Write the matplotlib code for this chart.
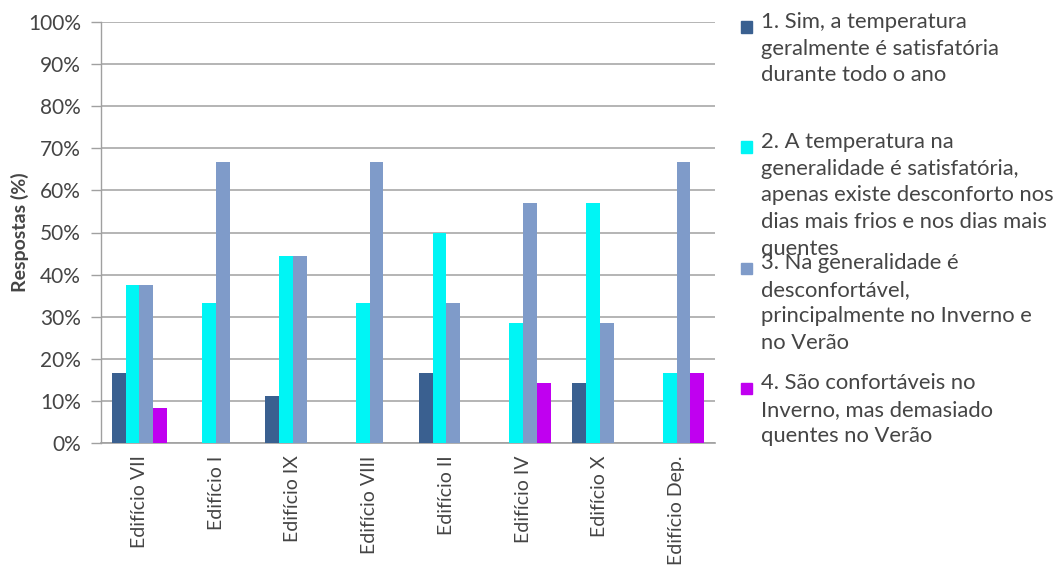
import matplotlib
matplotlib.use("Agg")
import matplotlib.pyplot as plt
import numpy as np
from matplotlib.patches import Rectangle

categories = ["Edifício VII", "Edifício I", "Edifício IX", "Edifício VIII",
              "Edifício II", "Edifício IV", "Edifício X", "Edifício Dep."]
s1 = [16.7, 0, 11.1, 0, 16.7, 0, 14.3, 0]
s2 = [37.5, 33.3, 44.4, 33.3, 50.0, 28.6, 57.1, 16.7]
s3 = [37.5, 66.7, 44.4, 66.7, 33.3, 57.1, 28.6, 66.7]
s4 = [8.3, 0, 0, 0, 0, 14.3, 0, 16.7]
series = [s1, s2, s3, s4]
labels = [
    "1. Sim, a temperatura\ngeralmente é satisfatória\ndurante todo o ano",
    "2. A temperatura na\ngeneralidade é satisfatória,\napenas existe desconforto nos\ndias mais frios e nos dias mais\nquentes",
    "3. Na generalidade é\ndesconfortável,\nprincipalmente no Inverno e\nno Verão",
    "4. São confortáveis no\nInverno, mas demasiado\nquentes no Verão",
]
colors = ["#3A6090", "#00F5F5", "#7F9BC9", "#C000F0"]
yticks = [0, 10, 20, 30, 40, 50, 60, 70, 80, 90, 100]

plt.rcParams['font.family'] = ['Lato', 'DejaVu Sans']
txt = "#454545"

fig = plt.figure(figsize=(10.62, 5.85), dpi=100)
W, H = 1062, 585
ax = fig.add_axes([101 / W, 1 - 443 / H, (715 - 101) / W, (443 - 22) / H])

x = np.arange(len(categories))
bw = 0.18
for i, (vals, c) in enumerate(zip(series, colors)):
    ax.bar(x + (i - 1.5) * bw, vals, width=bw, color=c, zorder=3)

ax.set_xlim(-0.5, len(categories) - 0.5)
ax.set_ylim(0, 100)
ax.set_yticks(yticks)
ax.set_yticklabels([f"{v}%" for v in yticks], fontsize=15, color=txt)
ax.set_xticks(x)
ax.set_xticklabels(categories, rotation=90, fontsize=14, color=txt)
ax.tick_params(axis='x', length=0, pad=9)
ax.tick_params(axis='y', length=7.5, width=1.0, color="#A0A0A0", pad=7)
ax.grid(axis='y', color="#A8A8A8", linewidth=1.2, zorder=0)
for sp in ["top", "right"]:
    ax.spines[sp].set_visible(False)
ax.spines["left"].set_color("#A0A0A0")
ax.spines["bottom"].set_color("#A0A0A0")
ax.spines["left"].set_linewidth(1.0)
ax.spines["bottom"].set_linewidth(1.2)
ax.set_ylabel("Respostas (%)", fontsize=14, fontweight='bold', color=txt)
ax.yaxis.set_label_coords(-0.118, 0.50)

# legend
line_tops = [27, 147, 268, 388]
for lab, c, yc in zip(labels, colors, line_tops):
    fig.patches.append(Rectangle((741 / W, 1 - (yc + 5.5) / H), 11 / W, 11 / H,
                                 transform=fig.transFigure, color=c))
    fig.text(761 / W, 1 - (yc - 15) / H, lab, fontsize=15.8, color=txt,
             va='top', ha='left', linespacing=1.42)

fig.savefig("out.png", dpi=100)
